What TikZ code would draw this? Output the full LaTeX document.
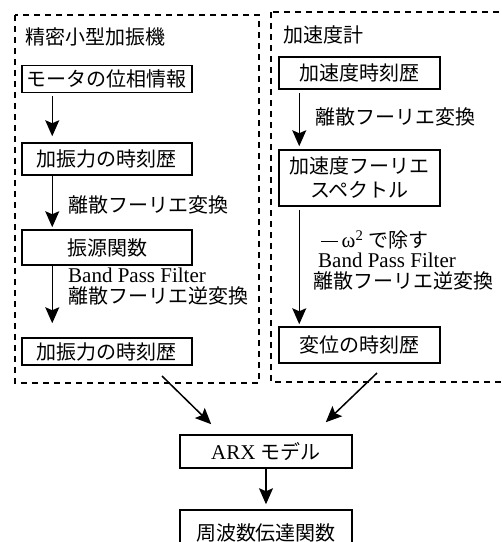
\documentclass[tikz,border=0pt]{standalone}
\usepackage{fontspec}
\setmainfont{Liberation Serif}
\newfontfamily\cjk{Noto Sans CJK JP}
\usetikzlibrary{arrows.meta,calc}
\tikzset{
  box/.style={draw, line width=1.5pt, rectangle, inner sep=0pt, font=\cjk\fontsize{20}{24}\selectfont, align=center},
  lbl/.style={anchor=west, inner sep=0pt, font=\cjk\fontsize{20}{24}\selectfont},
  latin/.style={font=\fontsize{21}{24}\selectfont},
  frame/.style={draw, line width=1.5pt, dash pattern=on 6pt off 5pt},
  arr/.style={line width=1.5pt, -{Stealth[length=16pt,width=14pt,inset=3pt]}}
}
\begin{document}
\begin{tikzpicture}[x=1pt,y=-1pt]
\useasboundingbox (0,0) rectangle (502,542);
% dashed frames
\draw[frame] (15,15) rectangle (259,383);
\draw[frame] (271,12) rectangle (510,382);
% left group
\node[lbl] (t1) at (25,37) {精密小型加振機};
\node[box, minimum width=170, minimum height=27] (m1) at (107,79) {モータの位相情報};
\node[box, minimum width=170, minimum height=32] (m2) at (107,159) {加振力の時刻歴};
\node[box, minimum width=170, minimum height=35] (m3) at (107,247.5) {振源関数};
\node[box, minimum width=170, minimum height=27] (m4) at (107,351.5) {加振力の時刻歴};
\node[lbl] (l1) at (68,205) {離散フーリエ変換};
\node[lbl, latin] (l2) at (68,275) {Band Pass Filter};
\node[lbl] (l3) at (68,296) {離散フーリエ逆変換};
\draw[arr, shorten <=3pt, shorten >=6pt] ([xshift=31pt]m1.south west) -- ([xshift=31pt]m2.north west);
\draw[arr, shorten >=2pt] ([xshift=31pt]m2.south west) -- ([xshift=31pt]m3.north west);
\draw[arr, shorten >=14pt] ([xshift=31pt]m3.south west) -- ([xshift=31pt]m4.north west);
% right group
\node[lbl] (t2) at (283,35) {加速度計};
\node[box, minimum width=161, minimum height=32] (r1) at (359.5,73) {加速度時刻歴};
\node[box, minimum width=161, minimum height=56] (r2) at (359.5,178) {加速度フーリエ\\スペクトル};
\node[box, minimum width=161, minimum height=36] (r3) at (359.5,345) {変位の時刻歴};
\node[lbl] (l4) at (315,117) {離散フーリエ変換};
\node[lbl, latin] (l5) at (321,240) {\rule[6pt]{17pt}{1.3pt}\,ω\textsuperscript{2} {\cjk\fontsize{20}{24}\selectfont で除す}};
\node[lbl, latin] (l6) at (318,260) {Band Pass Filter};
\node[lbl] (l7) at (313,281) {離散フーリエ逆変換};
\draw[arr, shorten <=3pt, shorten >=3pt] ([xshift=21pt]r1.south west) -- ([xshift=21pt]r2.north west);
\draw[arr, shorten <=3pt, shorten >=2pt] ([xshift=21pt]r2.south west) -- ([xshift=21pt]r3.north west);
% bottom
\node[box, minimum width=172, minimum height=33, latin] (arx) at (266,451.5) {ARX {\cjk\fontsize{20}{24}\selectfont モデル}};
\node[box, minimum width=172, minimum height=50] (fr) at (266,535) {\raisebox{5pt}{周波数伝達関数}};
\coordinate (s1) at (162,376);
\coordinate (s2) at (377,373);
\draw[arr] (s1) -- ($(arx.north west)+(32,-10)$);
\draw[arr] (s2) -- ($(arx.north east)+(-27,-12)$);
\draw[arr, shorten >=5pt] (arx) -- (fr);
\end{tikzpicture}
\end{document}
